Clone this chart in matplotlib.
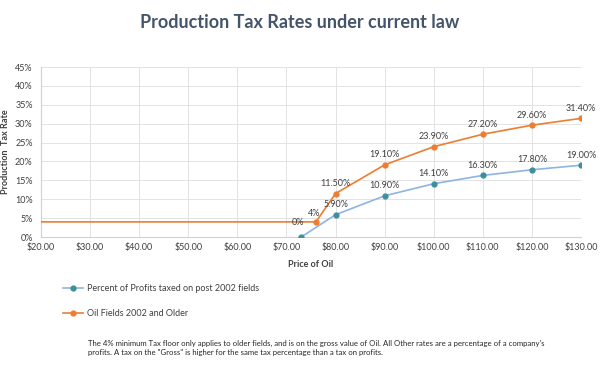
import matplotlib.pyplot as plt
from matplotlib.ticker import FuncFormatter, MultipleLocator

# data
post2002_price = [73, 80, 90, 100, 110, 120, 130]
post2002_rate = [0.0, 5.9, 10.9, 14.1, 16.3, 17.8, 19.0]
post2002_labels = ["0%", "5.90%", "10.90%", "14.10%", "16.30%", "17.80%", "19.00%"]

older_price = [20, 76, 80, 90, 100, 110, 120, 130]
older_rate = [4.0, 4.0, 11.5, 19.1, 23.9, 27.2, 29.6, 31.4]
older_labels = [None, "4%", "11.50%", "19.10%", "23.90%", "27.20%", "29.60%", "31.40%"]

plt.rcParams["font.family"] = ["Lato", "DejaVu Sans"]

BLUE_LINE = "#8DB4E2"
BLUE_MARK = "#3E8F9C"
ORANGE = "#ED7D31"
TXT = "#404040"

fig = plt.figure(figsize=(6, 3.66), dpi=100)
ax = fig.add_axes([41 / 600, 1 - 237 / 366, 540 / 600, 170 / 366])

l1, = ax.plot(post2002_price, post2002_rate, color=BLUE_LINE, lw=1.2,
              marker="o", ms=3.5, mfc=BLUE_MARK, mec=BLUE_MARK, zorder=3,
              label="Percent of Profits taxed on post 2002 fields")
l2, = ax.plot(older_price, older_rate, color=ORANGE, lw=1.2,
              marker="o", ms=3.5, mfc=ORANGE, mec=ORANGE, markevery=list(range(1, len(older_price))),
              zorder=3, label="Oil Fields 2002 and Older")

# value labels (the two first ones sit a bit left of their point)
for x, y, s in zip(post2002_price, post2002_rate, post2002_labels):
    off = (-2, 7) if x == 73 else (0, 4)
    ax.annotate(s, (x, y), xytext=off, textcoords="offset points",
                ha="center", va="bottom", fontsize=6.5, color=TXT)
for x, y, s in zip(older_price, older_rate, older_labels):
    if s is None:
        continue
    off = (-1, 3) if x == 76 else (0, 4)
    ax.annotate(s, (x, y), xytext=off, textcoords="offset points",
                ha="center", va="bottom", fontsize=6.5, color=TXT)

ax.set_xlim(20, 130)
ax.set_ylim(0, 45)
ax.xaxis.set_major_locator(MultipleLocator(10))
ax.yaxis.set_major_locator(MultipleLocator(5))
ax.xaxis.set_major_formatter(FuncFormatter(lambda v, p: f"${v:.2f}"))
ax.yaxis.set_major_formatter(FuncFormatter(lambda v, p: f"{v:.0f}%"))
ax.tick_params(axis="both", length=0, labelsize=6.5, labelcolor=TXT)
ax.tick_params(axis="y", pad=6)
ax.tick_params(axis="x", pad=4)
ax.grid(True, color="#E3E3E3", lw=0.7, zorder=0)
for side in ["top", "right"]:
    ax.spines[side].set_visible(False)
for side in ["left", "bottom"]:
    ax.spines[side].set_color("#D0D0D0")
    ax.spines[side].set_linewidth(0.8)

ax.set_xlabel("Price of Oil", fontsize=6.5, fontweight="bold", color=TXT, labelpad=6)
ax.set_ylabel("Production  Tax Rate", fontsize=6.5, fontweight="bold", color=TXT)
ax.yaxis.set_label_coords(-31 / 540, 0.5)

fig.text(0.5, 1 - 22 / 366, "Production Tax Rates under current law", ha="center", va="center",
         fontsize=13, fontweight="bold", color="#44546A")

fig.legend(handles=[l1, l2], loc="upper left", bbox_to_anchor=(55 / 600, 1 - 276 / 366),
           frameon=False, fontsize=6.5, labelcolor=TXT, handlelength=2.2,
           labelspacing=1.8, handletextpad=0.4)

fig.text(88 / 600, 1 - 348 / 366,
         "The 4% minimum Tax floor only applies to older fields, and is on the gross value of Oil. "
         "All Other rates are a percentage of a company's\n"
         "profits. A tax on the \"Gross\" is higher for the same tax percentage than a tax on profits.",
         ha="left", va="center", fontsize=5.6, color="#262626", linespacing=1.4)

fig.savefig("out.png", dpi=100)
